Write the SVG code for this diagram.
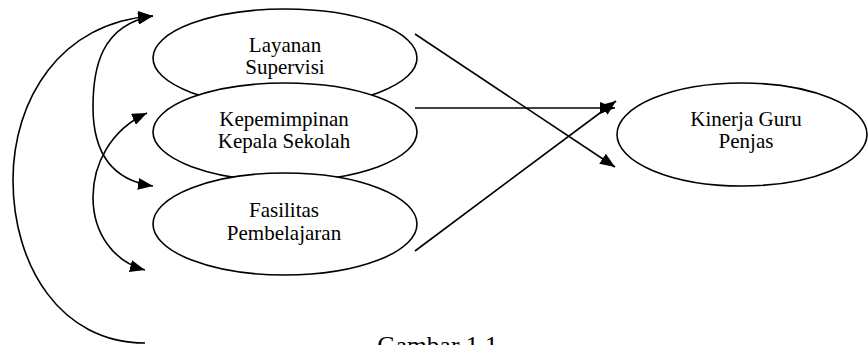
<svg xmlns="http://www.w3.org/2000/svg" width="868" height="345" viewBox="0 0 868 345">
<style>
.node ellipse{fill:#fff;stroke:#000;stroke-width:1.6}
text{font-family:"Liberation Serif","Times New Roman",serif;font-size:21px;fill:#000;text-anchor:middle}
.conn path,.conn line{fill:none;stroke:#000;stroke-width:1.6}
</style>
<defs>
<marker id="ah" viewBox="0 0 15 12" refX="15" refY="6" markerWidth="15" markerHeight="12" markerUnits="userSpaceOnUse" orient="auto-start-reverse">
<path d="M0,0 L15,6 L0,12 z" fill="#000"/>
</marker>
</defs>
<rect width="868" height="345" fill="#fff"/>
<g id="n1" class="node">
<ellipse cx="285" cy="58" rx="132" ry="49"/>
<text x="285" y="52">Layanan</text>
<text x="285" y="74">Supervisi</text>
</g>
<g id="n2" class="node">
<ellipse cx="285" cy="132" rx="132" ry="49"/>
<text x="284" y="126">Kepemimpinan</text>
<text x="284" y="148">Kepala Sekolah</text>
</g>
<g id="n3" class="node">
<ellipse cx="285" cy="224" rx="132" ry="51"/>
<text x="284" y="217">Fasilitas</text>
<text x="284" y="240">Pembelajaran</text>
</g>
<g id="n4" class="node">
<ellipse cx="742" cy="134.5" rx="125" ry="51.5"/>
<text x="746" y="126">Kinerja Guru</text>
<text x="746" y="148">Penjas</text>
</g>
<g id="connectors" class="conn">
<path d="M145,343 C60,343 13,265 13,180 C13,100 60,22 153,16" marker-end="url(#ah)"/>
<path d="M153,16 C100,25 93,70 93,107 C93,150 110,180 153,186" marker-start="url(#ah)" marker-end="url(#ah)"/>
<path d="M147,113 C110,130 93,165 93,197 C93,235 115,262 145,270" marker-start="url(#ah)" marker-end="url(#ah)"/>
<line x1="415" y1="34" x2="615" y2="167" marker-end="url(#ah)"/>
<line x1="415" y1="108" x2="615" y2="108" marker-end="url(#ah)"/>
<line x1="415" y1="251" x2="616" y2="101" marker-end="url(#ah)"/>
</g>
<text x="437.5" y="354" style="font-size:25.5px">Gambar 1.1</text>
</svg>
